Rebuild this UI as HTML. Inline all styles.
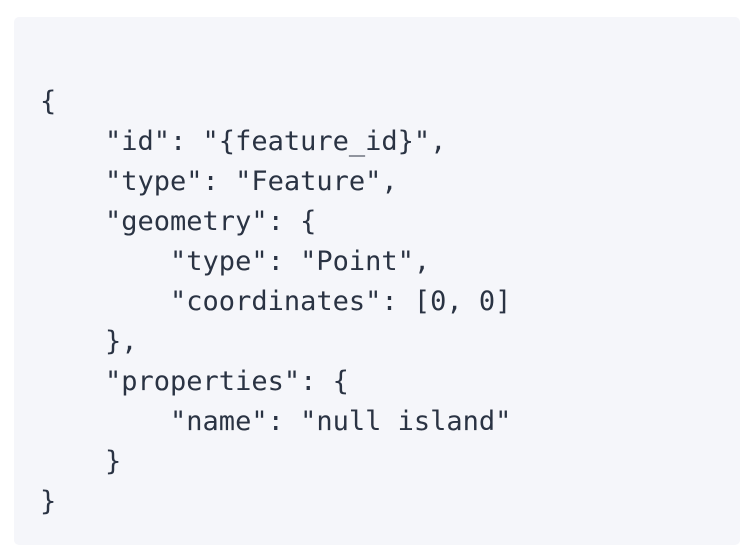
<!DOCTYPE html>
<html><head><meta charset="utf-8"><style>
html,body{margin:0;padding:0;background:#fff;width:740px;height:548px;overflow:hidden}
.box{position:absolute;left:14px;top:17px;width:726px;height:528px;background:#f5f6fa;border-radius:5px}
pre{position:absolute;left:40px;top:82px;margin:0;font-family:"DejaVu Sans Mono","Liberation Mono",monospace;font-size:27px;line-height:40px;color:#2a3343}
</style></head><body>
<div class="box"></div>
<pre>{
    "id": "{feature_id}",
    "type": "Feature",
    "geometry": {
        "type": "Point",
        "coordinates": [0, 0]
    },
    "properties": {
        "name": "null island"
    }
}</pre>
</body></html>
